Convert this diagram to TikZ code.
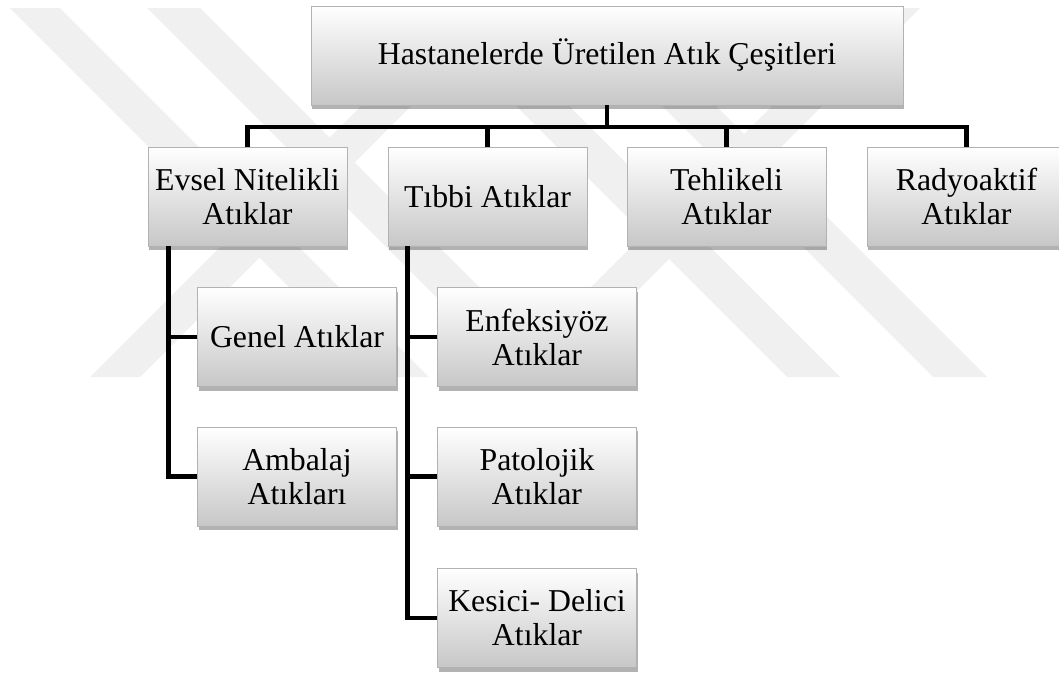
\documentclass[tikz,border=0pt]{standalone}
\usepackage{fontspec}
\setmainfont{Liberation Serif}
\usetikzlibrary{shadows}

\begin{document}
\begin{tikzpicture}[x=1pt,y=-1pt,
  kutu/.style={rectangle, draw=black!30, line width=0.8pt,
    top color=white, bottom color=black!22,
    minimum width=199pt, minimum height=99pt, inner sep=0pt, align=center,
    font=\fontsize{31.8}{34}\selectfont,
    drop shadow={shadow xshift=1pt, shadow yshift=-4pt, opacity=0.3, fill=black}},
  hat/.style={line width=4.5pt, line join=miter}]
\useasboundingbox (0,0) rectangle (1059,672);

% watermark
\fill[black!6] (10,8) -- (60,8) -- (429,377) -- (379,377) -- cycle;
\fill[black!6] (147,8) -- (200,8) -- (569,377) -- (516,377) -- cycle;
\fill[black!6] (90,377) -- (140,377) -- (509,8) -- (459,8) -- cycle;
\fill[black!6] (418,8) -- (471,8) -- (840,377) -- (787,377) -- cycle;
\fill[black!6] (564,8) -- (618,8) -- (987,377) -- (933,377) -- cycle;
\fill[black!6] (870,8) -- (920,8) -- (551,377) -- (501,377) -- cycle;

% boxes
\node[kutu, minimum width=592pt] (root) at (607,55.5) {Hastanelerde Üretilen Atık Çeşitleri};
\node[kutu] (evsel) at (247.5,196.5) {Evsel Nitelikli\\Atıklar};
\node[kutu] (tibbi) at (487.5,196.5) {Tıbbi Atıklar};
\node[kutu] (tehlike) at (726.5,196.5) {Tehlikeli\\Atıklar};
\node[kutu] (radyo) at (966.5,196.5) {Radyoaktif\\Atıklar};

\node[kutu] (genel) at (297,337) {Genel Atıklar};
\node[kutu] (ambalaj) at (297,476.5) {Ambalaj\\Atıkları};
\node[kutu] (enf) at (537,337) {Enfeksiyöz\\Atıklar};
\node[kutu] (pato) at (537,476.5) {Patolojik\\Atıklar};
\node[kutu] (kesici) at (537,618) {Kesici- Delici\\Atıklar};

% top bar
\coordinate (bar) at (607,127);
\draw[hat] (root.south) -- (bar);
\draw[hat] (bar) -| (evsel.north);
\draw[hat] (bar) -| (tibbi.north);
\draw[hat] (bar) -| (tehlike.north);
\draw[hat] (bar) -| (radyo.north);

% branches
\draw[hat] ([xshift=21pt]evsel.south west) |- (genel.west);
\draw[hat] ([xshift=21pt]evsel.south west) |- (ambalaj.west);
\draw[hat] ([xshift=20pt]tibbi.south west) |- (enf.west);
\draw[hat] ([xshift=20pt]tibbi.south west) |- (pato.west);
\draw[hat] ([xshift=20pt]tibbi.south west) |- (kesici.west);
\end{tikzpicture}
\end{document}
